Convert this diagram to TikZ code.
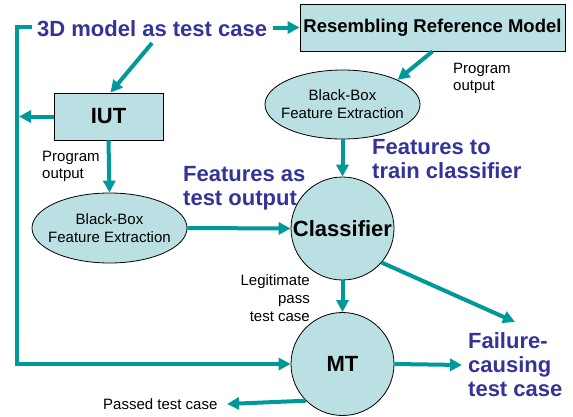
\documentclass[tikz,border=0pt]{standalone}
\usepackage{fontspec}
\setmainfont{Liberation Sans}
\usetikzlibrary{arrows.meta,shapes.geometric}
\definecolor{flowteal}{RGB}{0,153,153}
\definecolor{nodefill}{RGB}{186,224,227}
\definecolor{captionblue}{RGB}{51,51,153}
\begin{document}
\begin{tikzpicture}[x=1pt,y=-1pt,
  arr/.style={draw=flowteal, line width=4pt, -{Triangle[length=12pt,width=12pt]}},
  box/.style={draw=black, line width=0.8pt, fill=nodefill, rectangle, inner sep=0pt,
              font=\fontsize{18.5}{20}\selectfont\bfseries},
  oval/.style={draw=black, line width=0.8pt, fill=nodefill, ellipse, inner xsep=-10pt,
               inner ysep=0pt, align=center, font=\fontsize{15}{18}\selectfont},
  disc/.style={draw=black, line width=0.8pt, fill=nodefill, circle, inner sep=0pt,
               minimum size=103pt, font=\fontsize{22}{24}\selectfont\bfseries},
  bigblue/.style={text=captionblue, font=\fontsize{22}{24}\selectfont\bfseries,
                  inner sep=0pt, align=left},
  small/.style={font=\fontsize{15}{17}\selectfont, inner sep=0pt}]
\useasboundingbox (0,0) rectangle (573,416);

% processing nodes
\node[box, minimum width=265pt, minimum height=47pt] (rrm) at (432.5,27.5) {Resembling Reference Model};
\node[box, minimum width=109pt, minimum height=47pt, font=\fontsize{22}{24}\selectfont\bfseries] (iut) at (108.5,116.5) {IUT};
\node[oval, minimum width=155pt, minimum height=69pt] (fe2) at (342.5,104.5) {Black-Box\\Feature Extraction};
\node[oval, minimum width=155pt, minimum height=70pt] (fe1) at (109.5,228) {Black-Box\\Feature Extraction};
\node[disc] (cls) at (342.5,228.5) {Classifier};
\node[disc] (mt) at (342.5,364) {MT};

% captions
\node[bigblue, anchor=base west] (t3d) at (37,36) {3D model as test case};
\node[bigblue, anchor=north west] (fto) at (183,166) {Features as\\test output};
\node[bigblue, anchor=north west] (ftc) at (372,139) {Features to\\train classifier};
\node[bigblue, anchor=north west] (fail) at (468,332) {Failure-\\causing\\test case};
\node[small, anchor=north west, align=left] (po1) at (42,151) {Program\\output};
\node[small, anchor=north west, align=left] (po2) at (453,63) {Program\\output};
\node[small, anchor=north east, align=right, font=\fontsize{15}{18}\selectfont] (legit) at (310,274) {Legitimate\\pass\\test case};
\node[small, anchor=base west] (passed) at (103,409) {Passed test case};

% free ends of connectors
\coordinate (loopstart) at (32,27);
\coordinate (loopcorner) at (17,27);
\coordinate (t3dfoot) at (152,43);
\coordinate (failtip) at (515,322);
\coordinate (mtout) at (462,365);
\coordinate (passtip) at (227,404);

% connectors
\draw[arr] ([xshift=6pt]t3d.east |- rrm.west) -- (rrm.west);
\draw[arr] (t3dfoot) -- ([xshift=2pt]iut.north);
\draw[arr, line join=miter] (loopstart) -- (loopcorner) |- (mt.west);
\draw[arr] (iut.west) -- ([xshift=2pt]iut.west -| loopcorner);
\draw[arr] (iut.south) -- (fe1.north);
\draw[arr] (rrm.south) -- (fe2.north east);
\draw[arr] (fe2.south) -- (cls.north);
\draw[arr] (fe1.east) -- (cls.west);
\draw[arr] (cls.-41) -- (failtip);
\draw[arr] (cls.south) -- (mt.north);
\draw[arr] (mt.east) -- (mtout);
\draw[arr] (mt.south west) -- (passtip);
\end{tikzpicture}
\end{document}
